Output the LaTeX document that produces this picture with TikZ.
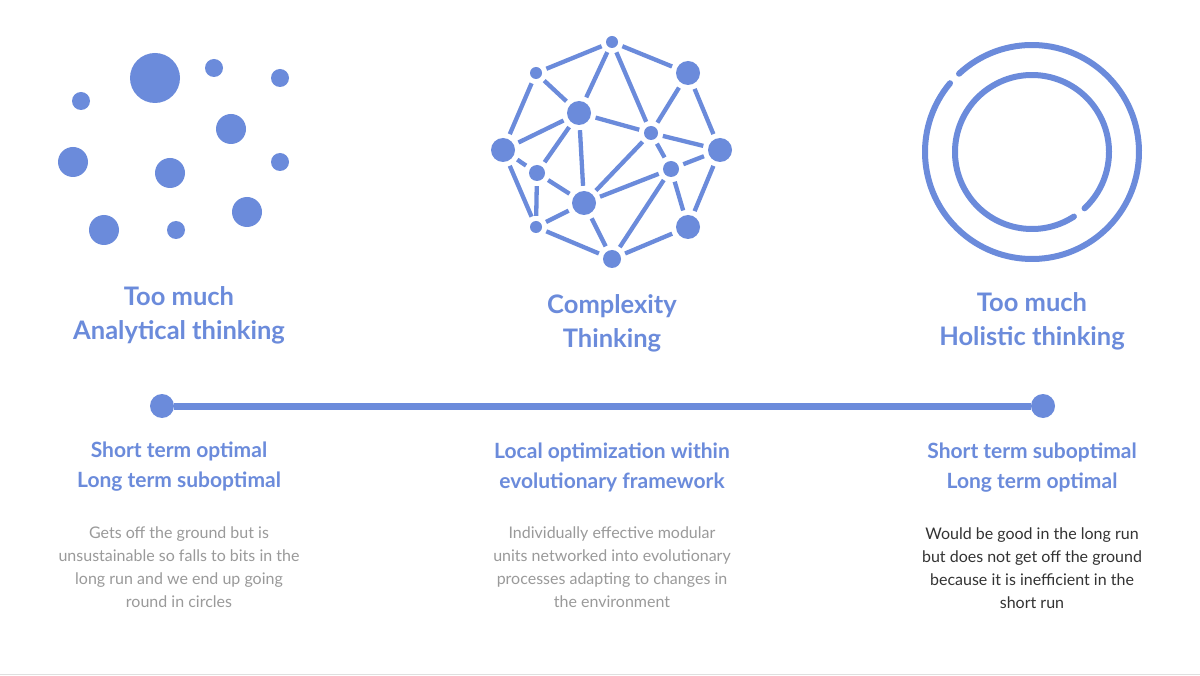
\documentclass[tikz,border=0pt]{standalone}
\usepackage{fontspec}
\setmainfont{Lato}
\begin{document}
\begin{tikzpicture}[x=1pt,y=-1pt,
  edge/.style={draw=bl,line width=4.3pt,shorten <=5pt,shorten >=5pt},
  head/.style={text=bl,font=\bfseries\fontsize{25.5}{34}\selectfont,align=center},
  sub/.style={text=bl,font=\bfseries\fontsize{21}{30}\selectfont,align=center},
  body/.style={font=\fontsize{16}{23}\selectfont,align=center}]
\definecolor{bl}{HTML}{6B8BDB}
\definecolor{gr}{HTML}{9A9A9A}
\definecolor{dk}{HTML}{333333}
\useasboundingbox (0,0) rectangle (1200,676);
\fill[white] (0,0) rectangle (1200,676);
\draw[gray!25,line width=1pt] (0,674) -- (1200,674);
% dots
\foreach \x/\y/\r in {155/78/25,214/68/9,280/78/9,81/101/9,231/129/15,73/162/15,170/173/15,280/162/9,247/212/15,104/230/15,176/230/9}
  \fill[bl] (\x,\y) circle (\r);
% network
\foreach \n/\x/\y/\r in {A/612/42/6,B/536/73/6,C/688/73/12,D/579/113/12,E/651/133/7,F/503/150/12,G/720/150/12,H/537/173/8,I/671/169/8,J/584/203/12,K/536/227/6,L/688/227/12,M/612/259/9}
  \node[circle,fill=bl,inner sep=0,minimum size=2*\r pt] (\n) at (\x,\y) {};
\foreach \a/\b in {A/B,A/C,A/D,A/E,B/F,B/D,C/E,C/G,D/F,D/E,D/H,D/J,E/G,E/J,E/I,F/H,F/K,H/J,H/K,J/K,I/J,I/G,I/L,J/M,K/M,I/M,L/M,G/L}
  \draw[edge] (\a) -- (\b);
% rings
\coordinate (rc) at (1032,152);
\draw[bl,line width=6pt,line cap=round] ([shift={(-133:107)}]rc) arc[start angle=-133,end angle=220,radius=107];
\draw[bl,line width=6pt,line cap=round] ([shift={(57:77)}]rc) arc[start angle=57,end angle=407,radius=77];
% headings
\node[head] (h1) at (179,315) {Too much\\Analytical thinking};
\node[head] (h2) at (612,323) {Complexity\\Thinking};
\node[head] (h3) at (1032,321) {Too much\\Holistic thinking};
% timeline
\node[circle,fill=bl,inner sep=0,minimum size=24pt] (t1) at (162,406) {};
\node[circle,fill=bl,inner sep=0,minimum size=24pt] (t2) at (1043,406) {};
\draw[bl,line width=7pt] (t1) -- (t2);
% subheadings
\node[sub] (s1) at (179,467) {Short term optimal\\Long term suboptimal};
\node[sub] (s2) at (612,467) {Local optimization within\\evolutionary framework};
\node[sub] (s3) at (1032,468) {Short term suboptimal\\Long term optimal};
% bodies
\node[body,text=gr] (b1) at (179,567) {Gets off the ground but is\\unsustainable so falls to bits in the\\long run and we end up going\\round in circles};
\node[body,text=gr] (b2) at (612,567) {Individually effective modular\\units networked into evolutionary\\processes adapting to changes in\\the environment};
\node[body,text=dk] (b3) at (1032,568) {Would be good in the long run\\but does not get off the ground\\because it is inefficient in the\\short run};
\end{tikzpicture}
\end{document}
